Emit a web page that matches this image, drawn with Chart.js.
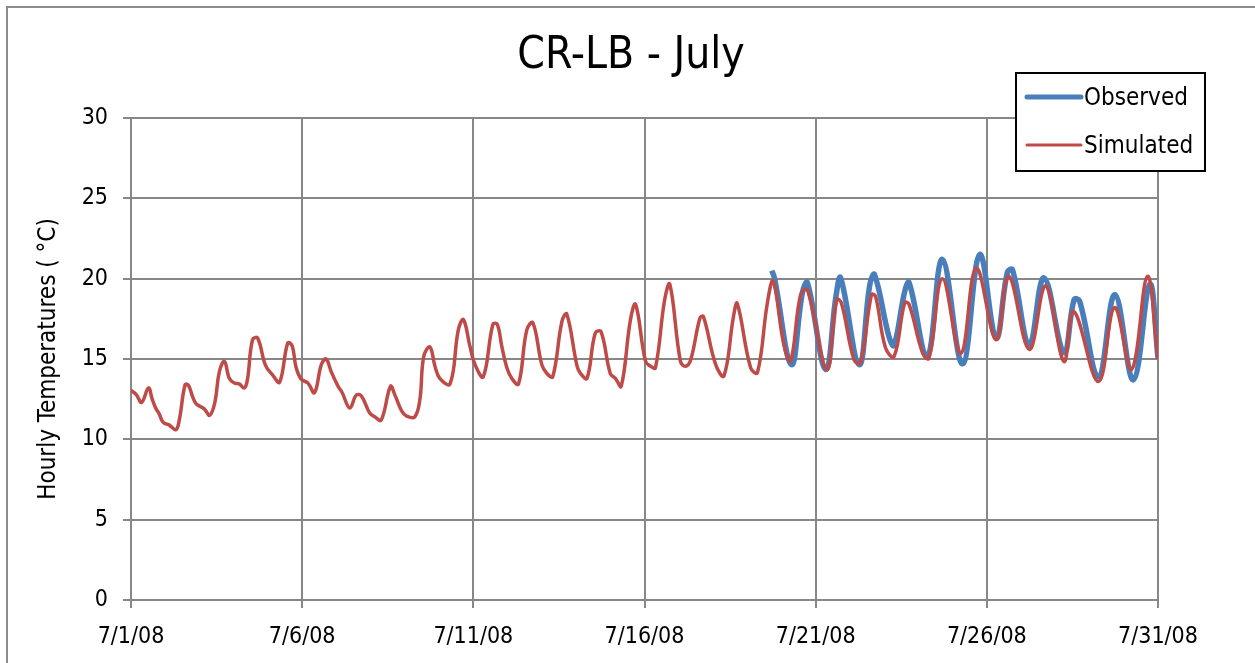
<!DOCTYPE html>
<html>
<head>
<meta charset="utf-8">
<script src="https://cdn.jsdelivr.net/npm/chart.js@4"></script>
<style>
    html, body { margin: 0; padding: 0; background: #fff; }
    #wrap { width: 1255px; height: 663px; }
</style>
</head>
<body>
<div id="wrap"><canvas id="temp-chart" width="1255" height="663"></canvas></div>
<script>
// days since 7/1/08 and hourly temperature (deg C)
const simDays = [0.00, 0.15, 0.31, 0.51, 0.62, 0.72, 0.82, 0.94, 1.11, 1.31, 1.41, 1.58, 1.68, 1.80, 1.91, 2.14, 2.30, 2.45, 2.58, 2.73,
    2.87, 3.02, 3.16, 3.31, 3.40, 3.55, 3.70, 3.93, 4.14, 4.34, 4.58, 4.71, 4.82, 4.97, 5.17, 5.36, 5.56, 5.70, 5.85, 6.05,
    6.17, 6.39, 6.58, 6.73, 6.97, 7.12, 7.31, 7.58, 7.71, 7.91, 8.05, 8.29, 8.44, 8.55, 8.73, 8.88, 9.02, 9.32, 9.56, 9.71,
    9.90, 10.05, 10.29, 10.57, 10.70, 10.83, 10.98, 11.12, 11.32, 11.56, 11.74, 12.00, 12.15, 12.32, 12.59, 12.73, 13.03, 13.13, 13.32, 13.56,
    13.73, 14.00, 14.15, 14.32, 14.59, 14.74, 15.03, 15.18, 15.32, 15.59, 15.74, 16.05, 16.20, 16.35, 16.62, 16.72, 17.08, 17.32, 17.60, 17.71,
    18.10, 18.30, 18.59, 18.76, 19.07, 19.27, 19.56, 19.76, 20.32, 20.61, 20.75, 21.12, 21.31, 21.63, 21.75, 22.04, 22.29, 22.60, 22.73, 23.12,
    23.31, 23.70, 24.24, 24.69, 25.27, 25.64, 26.24, 26.72, 27.25, 27.54, 28.26, 28.73, 29.23, 29.69, 30.00];
const simTemps = [13.05, 12.8, 12.3, 13.2, 12.5, 11.95, 11.6, 11.05, 10.9, 10.6, 11.2, 13.4, 13.35, 12.65, 12.2, 11.9, 11.5, 12.3, 14.2, 14.85,
    13.8, 13.5, 13.45, 13.2, 13.7, 16.2, 16.3, 14.6, 14.0, 13.55, 16.0, 15.8, 14.5, 13.75, 13.5, 12.9, 14.65, 15.0, 14.2, 13.3,
    12.9, 11.95, 12.75, 12.7, 11.65, 11.4, 11.2, 13.3, 12.75, 11.75, 11.45, 11.4, 12.5, 15.15, 15.75, 14.55, 13.8, 13.45, 16.8, 17.45,
    15.8, 14.65, 13.9, 17.15, 17.15, 15.8, 14.45, 13.8, 13.45, 16.8, 17.25, 14.65, 14.1, 13.9, 17.35, 17.8, 14.55, 14.1, 13.8, 16.6,
    16.7, 14.1, 13.8, 13.3, 17.45, 18.4, 14.85, 14.55, 14.45, 18.7, 19.65, 14.85, 14.55, 14.95, 17.55, 17.65, 14.65, 13.95, 17.65, 18.45,
    14.45, 14.15, 18.5, 19.85, 15.9, 14.9, 19.0, 19.3, 14.35, 18.7, 18.5, 14.95, 14.75, 19.0, 18.9, 15.7, 15.15, 18.5, 18.4, 15.4,
    15.05, 20.0, 15.35, 20.65, 16.2, 20.15, 15.6, 19.55, 14.85, 17.95, 13.6, 18.2, 14.35, 20.15, 15.0];

const obsDays = [18.72, 18.80, 19.29, 19.61, 19.76, 20.29, 20.60, 20.73, 21.27, 21.58, 21.72, 22.14, 22.29, 22.60, 22.73, 23.26,
    23.70, 24.29, 24.79, 25.27, 25.60, 25.75, 26.24, 26.67, 27.25, 27.55, 27.71, 28.26, 28.74, 29.28, 29.76, 30.00];
const obsTemps = [20.5, 20.0, 14.65, 19.1, 19.75, 14.35, 19.0, 20.05, 14.65, 19.6, 20.25, 16.4, 15.85, 19.2, 19.75, 15.15,
    21.2, 14.7, 21.5, 16.3, 20.4, 20.55, 15.9, 20.05, 15.4, 18.7, 18.6, 13.9, 19.0, 13.7, 19.65, 15.05];

const seriesNames = ["Observed", "Simulated"];
const yTicks = [0, 5, 10, 15, 20, 25, 30];
const dateLabels = ["7/1/08", "7/6/08", "7/11/08", "7/16/08", "7/21/08", "7/26/08", "7/31/08"];
const chartTitle = "CR-LB - July";

const FONT = "'Liberation Sans Narrow', 'DejaVu Sans Condensed', 'Liberation Sans', sans-serif";
const BLUE = "#4a7ebb";
const RED = "#be4b48";
const GRID = "#878787";

const toPoints = (xs, ys) => xs.map((x, i) => ({x: x, y: ys[i]}));

// outer frame, title and boxed legend like the spreadsheet chart
const framePlugin = {
    id: "frame",
    beforeDraw(chart) {
        const ctx = chart.ctx;
        ctx.save();
        ctx.fillStyle = "#fff";
        ctx.fillRect(0, 0, chart.width, chart.height);
        ctx.strokeStyle = "#8c8c8c";
        ctx.lineWidth = 2;
        ctx.strokeRect(7, 7, chart.width + 10, chart.height + 10);
        ctx.fillStyle = "#000";
        ctx.font = "44px " + FONT;
        ctx.textAlign = "center";
        ctx.textBaseline = "middle";
        ctx.fillText(chartTitle, 631, 57);
        ctx.restore();
    },
    afterDraw(chart) {
        const ctx = chart.ctx;
        ctx.save();
        ctx.fillStyle = "#fff";
        ctx.fillRect(1016, 73, 189, 98);
        ctx.strokeStyle = "#000";
        ctx.lineWidth = 2;
        ctx.strokeRect(1016, 73, 189, 98);
        const rows = [[97, 0, 5], [145, 1, 3]];
        rows.forEach(([y, idx, w]) => {
            const ds = chart.data.datasets[idx];
            ctx.strokeStyle = ds.borderColor;
            ctx.lineWidth = w;
            ctx.lineCap = "round";
            ctx.beginPath();
            ctx.moveTo(1027, y);
            ctx.lineTo(1081, y);
            ctx.stroke();
            ctx.fillStyle = "#000";
            ctx.font = "24px " + FONT;
            ctx.textBaseline = "middle";
            ctx.textAlign = "left";
            ctx.fillText(ds.label, 1084, y + 2);
        });
        ctx.restore();
    }
};

const tempChart = document.getElementById("temp-chart").getContext("2d");

new Chart(tempChart, {
    type: "line",
    data: {
        datasets: [{
            label: seriesNames[0],
            data: toPoints(obsDays, obsTemps),
            borderColor: BLUE,
            borderWidth: 5.5,
            pointRadius: 0,
            fill: false,
            tension: 0.4,
            order: 2
        }, {
            label: seriesNames[1],
            data: toPoints(simDays, simTemps),
            borderColor: RED,
            borderWidth: 3.5,
            pointRadius: 0,
            fill: false,
            tension: 0.4,
            order: 1
        }]
    },
    options: {
        responsive: false,
        animation: false,
        devicePixelRatio: 1,
        layout: {padding: {left: 0, right: 97, top: 118, bottom: 0}},
        plugins: {
            legend: {display: false},
            tooltip: {enabled: false},
            title: {display: false}
        },
        scales: {
            x: {
                type: "linear",
                min: 0,
                max: 30,
                afterFit: (scale) => { scale.height = 63; },
                afterBuildTicks: (scale) => { scale.ticks = dateLabels.map((_, i) => ({value: i * 5})); },
                ticks: {
                    color: "#000",
                    font: {family: FONT, size: 23},
                    padding: 15,
                    maxRotation: 0,
                    autoSkip: false,
                    callback: (value) => dateLabels[value / 5]
                },
                grid: {color: GRID, lineWidth: 2, tickLength: 8},
                border: {color: GRID, width: 2}
            },
            y: {
                min: 0,
                max: 30,
                afterFit: (scale) => { scale.width = 131; },
                afterBuildTicks: (scale) => { scale.ticks = yTicks.map(v => ({value: v})); },
                ticks: {
                    color: "#000",
                    font: {family: FONT, size: 23},
                    padding: 15
                },
                grid: {color: GRID, lineWidth: 2, tickLength: 8},
                border: {color: GRID, width: 2},
                title: {
                    display: true,
                    text: "Hourly Temperatures ( °C)",
                    color: "#000",
                    font: {family: FONT, size: 24},
                    padding: {top: 34, bottom: 0}
                }
            }
        }
    },
    plugins: [framePlugin]
});
</script>
</body>
</html>
